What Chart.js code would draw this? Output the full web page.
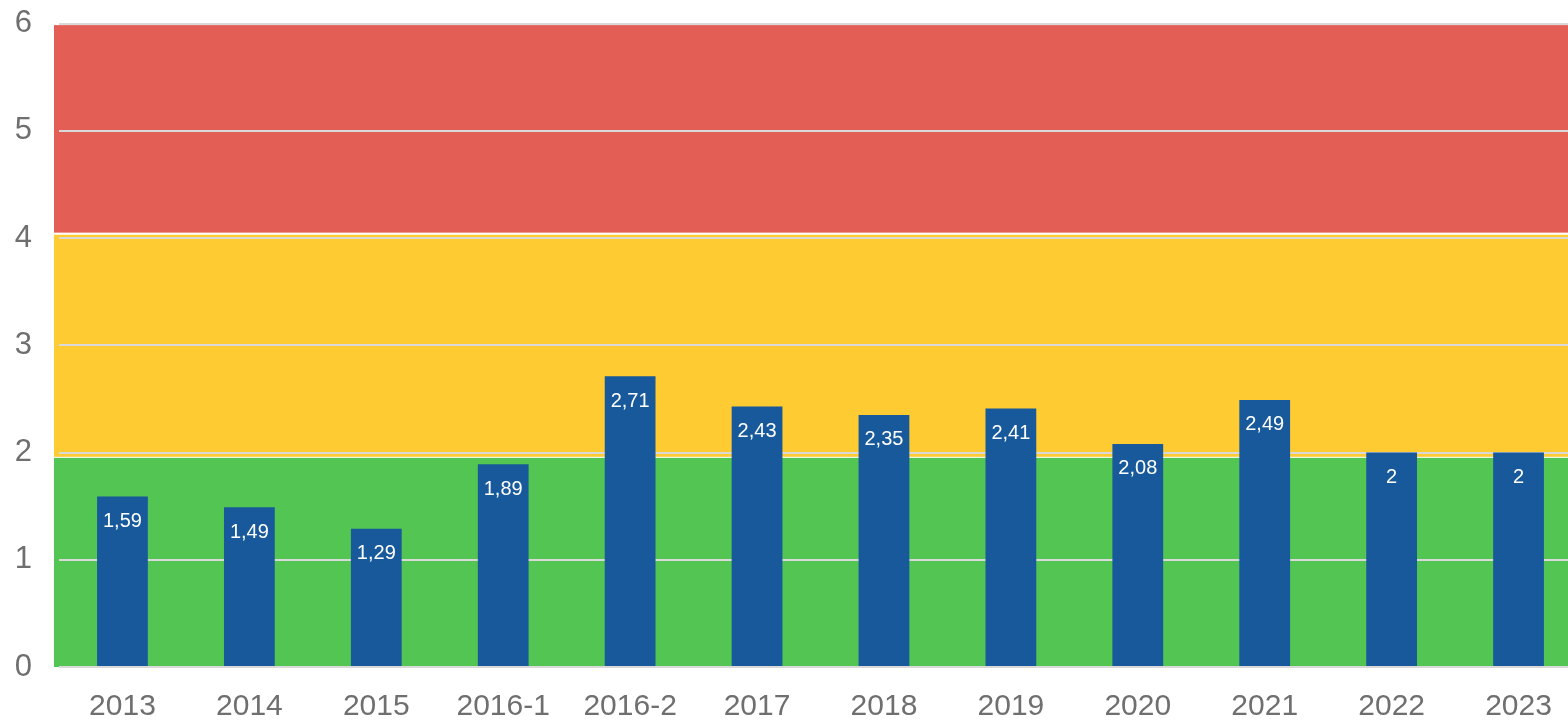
<!DOCTYPE html>
<html>
<head>
<meta charset="utf-8">
<script src="https://cdn.jsdelivr.net/npm/chart.js@4"></script>
<style>
  html, body { margin: 0; padding: 0; background: #fff; overflow: hidden; }
  #wrap { width: 1582px; height: 720px; }
</style>
</head>
<body>
<div id="wrap"><canvas id="chart"></canvas></div>
<script>
// ---- data ----
const categories = ['2013', '2014', '2015', '2016-1', '2016-2', '2017', '2018', '2019', '2020', '2021', '2022', '2023'];
const values = [1.59, 1.49, 1.29, 1.89, 2.71, 2.43, 2.35, 2.41, 2.08, 2.49, 2, 2];

// background zones (value ranges on the y axis)
const bandFrom = [0, 1.96, 4.05];
const bandTo = [1.95, 4.03, 5.985];
const bandColors = ['#52c552', '#fecb33', '#e35e55'];

const yTicks = [0, 1, 2, 3, 4, 5, 6];

// draws the coloured zones behind the grid
const bandsPlugin = {
  id: 'bands',
  beforeDraw(chart) {
    const { ctx, chartArea, scales } = chart;
    ctx.save();
    bandFrom.forEach((from, i) => {
      const top = scales.y.getPixelForValue(bandTo[i]);
      const bottom = scales.y.getPixelForValue(from);
      ctx.fillStyle = bandColors[i];
      ctx.fillRect(chartArea.left - 5, top, chartArea.right - chartArea.left + 5, bottom - top);
    });
    ctx.restore();
  }
};

// value labels inside the top of each bar
const valueLabels = {
  id: 'valueLabels',
  afterDatasetsDraw(chart) {
    const { ctx } = chart;
    const meta = chart.getDatasetMeta(0);
    ctx.save();
    ctx.fillStyle = '#ffffff';
    ctx.font = '20px "Liberation Sans", Arial, sans-serif';
    ctx.textAlign = 'center';
    ctx.textBaseline = 'middle';
    meta.data.forEach((bar, i) => {
      const txt = String(values[i]).replace('.', ',');
      ctx.fillText(txt, bar.x, bar.y + 25);
    });
    ctx.restore();
  }
};

new Chart(document.getElementById('chart'), {
  type: 'bar',
  data: {
    labels: categories,
    datasets: [{
      data: values,
      backgroundColor: '#17599b',
      barPercentage: 0.4,
      categoryPercentage: 1
    }]
  },
  options: {
    responsive: true,
    maintainAspectRatio: false,
    animation: false,
    layout: { padding: { top: 23.5, right: 0, left: 0, bottom: 0 } },
    plugins: {
      legend: { display: false },
      tooltip: { enabled: false }
    },
    scales: {
      x: {
        grid: { display: false, drawTicks: false },
        border: { display: false },
        ticks: {
          color: '#6f6f6f',
          font: { size: 30, family: '"Liberation Sans", Arial, sans-serif' },
          padding: 22,
          maxRotation: 0,
          autoSkip: false
        },
        afterFit(scale) {
          scale.height = 53;
          scale.paddingLeft = 0;
          scale.paddingRight = 0;
        }
      },
      y: {
        min: 0,
        max: 6,
        afterBuildTicks(scale) { scale.ticks = yTicks.map(v => ({ value: v })); },
        grid: { color: '#d9d9d9', lineWidth: 2, drawTicks: false },
        border: { display: false },
        ticks: {
          color: '#6f6f6f',
          font: { size: 31, family: '"Liberation Sans", Arial, sans-serif' },
          padding: 27
        },
        afterFit(scale) {
          scale.width = 59;
          scale.paddingTop = 0;
          scale.paddingBottom = 0;
        }
      }
    }
  },
  plugins: [bandsPlugin, valueLabels]
});
</script>
</body>
</html>
